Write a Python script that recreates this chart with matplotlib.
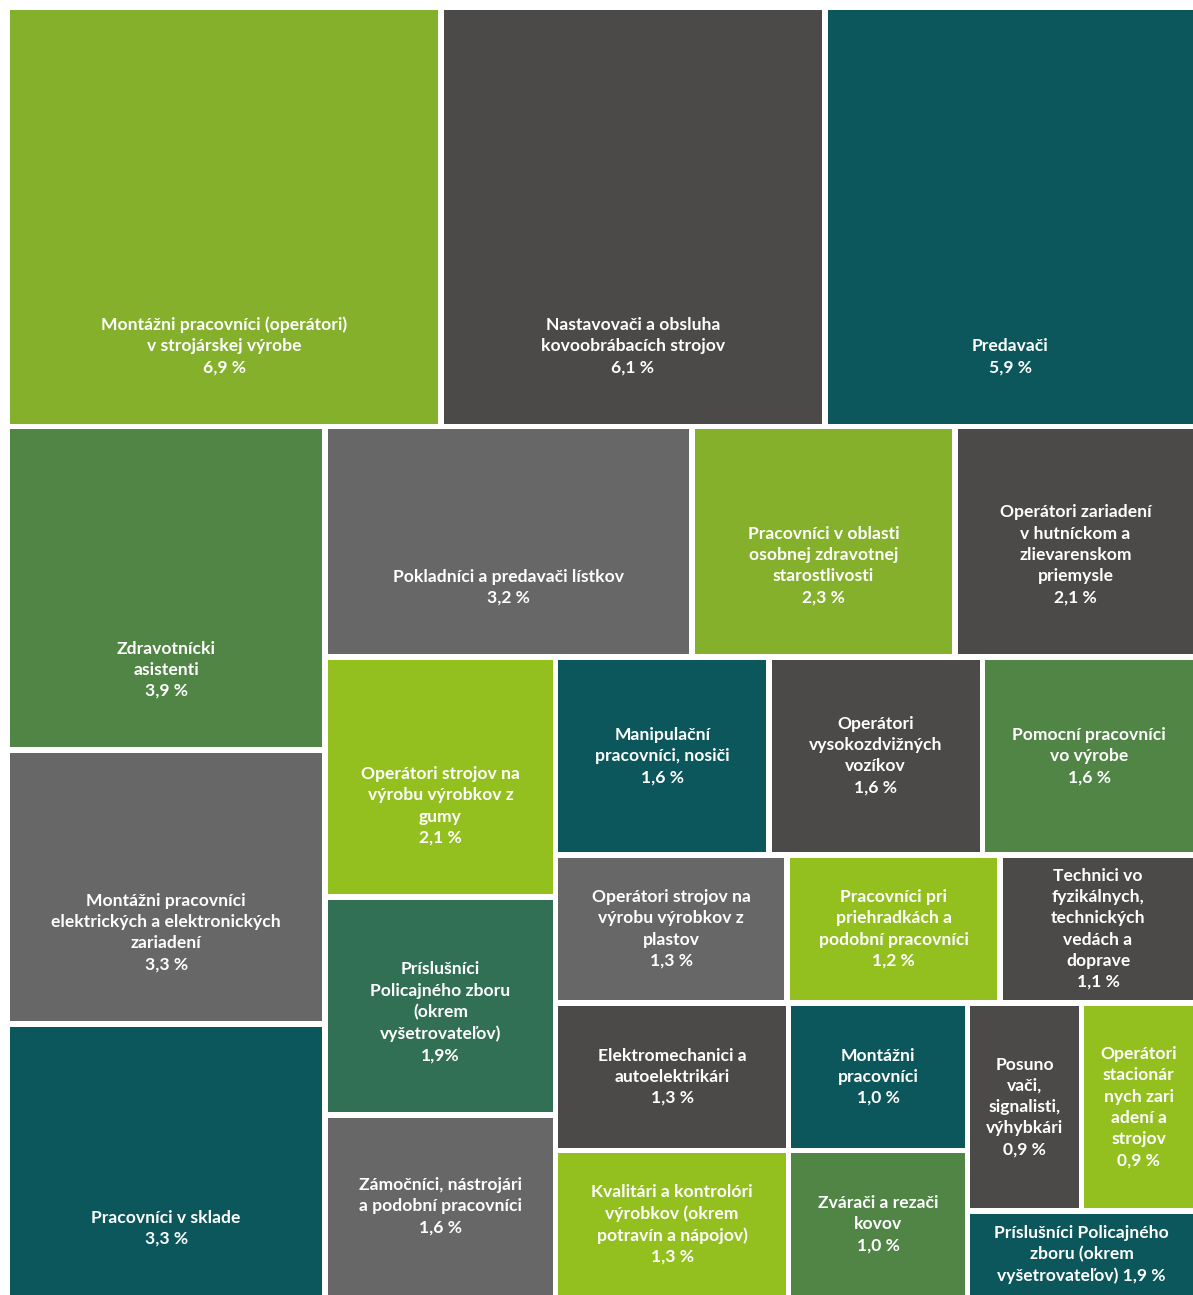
import matplotlib.pyplot as plt
from matplotlib.patches import Rectangle

# ----------------- Data -----------------
labels = [
    "Montážni pracovníci (operátori)\nv strojárskej výrobe\n6,9 %",
    "Nastavovači a obsluha\nkovoobrábacích strojov\n6,1 %",
    "Predavači\n5,9 %",
    "Zdravotnícki\nasistenti\n3,9 %",
    "Montážni pracovníci\nelektrických a elektronických\nzariadení\n3,3 %",
    "Pracovníci v sklade\n3,3 %",
    "Pokladníci a predavači lístkov\n3,2 %",
    "Pracovníci v oblasti\nosobnej zdravotnej\nstarostlivosti\n2,3 %",
    "Operátori zariadení\nv hutníckom a\nzlievarenskom\npriemysle\n2,1 %",
    "Operátori strojov na\nvýrobu výrobkov z\ngumy\n2,1 %",
    "Príslušníci\nPolicajného zboru\n(okrem\nvyšetrovateľov)\n1,9%",
    "Zámočníci, nástrojári\na podobní pracovníci\n1,6 %",
    "Manipulační\npracovníci, nosiči\n1,6 %",
    "Operátori\nvysokozdvižných\nvozíkov\n1,6 %",
    "Pomocní pracovníci\nvo výrobe\n1,6 %",
    "Operátori strojov na\nvýrobu výrobkov z\nplastov\n1,3 %",
    "Pracovníci pri\npriehradkách a\npodobní pracovníci\n1,2 %",
    "Technici vo\nfyzikálnych,\ntechnických\nvedách a\ndoprave\n1,1 %",
    "Elektromechanici a\nautoelektrikári\n1,3 %",
    "Kvalitári a kontrolóri\nvýrobkov (okrem\npotravín a nápojov)\n1,3 %",
    "Montážni\npracovníci\n1,0 %",
    "Zvárači a rezači\nkovov\n1,0 %",
    "Posuno\nvači,\nsignalisti,\nvýhybkári\n0,9 %",
    "Operátori\nstacionár\nnych zari\nadení a\nstrojov\n0,9 %",
    "Príslušníci Policajného\nzboru (okrem\nvyšetrovateľov) 1,9 %",
]
values = [6.9, 6.1, 5.9, 3.9, 3.3, 3.3, 3.2, 2.3, 2.1, 2.1, 1.9, 1.6, 1.6, 1.6,
          1.6, 1.3, 1.2, 1.1, 1.3, 1.3, 1.0, 1.0, 0.9, 0.9, 0.75]

LIME = '#84B02B'
LIME2 = '#93C01F'
DGRAY = '#4B4A48'
MGRAY = '#676767'
TEAL = '#0B575C'
GREEN = '#508545'
DGREEN = '#317055'
colors = [LIME, DGRAY, TEAL, GREEN, MGRAY, TEAL, MGRAY, LIME, DGRAY, LIME2,
          DGREEN, MGRAY, TEAL, DGRAY, GREEN, MGRAY, LIME2, DGRAY, DGRAY, LIME2,
          TEAL, GREEN, DGRAY, LIME2, TEAL]

# slice-and-dice structure: 'r' = side by side, 'c' = stacked
layout = ('c', [
    ('r', [0, 1, 2]),
    ('r', [
        ('c', [3, 4, 5]),
        ('c', [
            ('r', [6, 7, 8]),
            ('r', [
                ('c', [9, 10, 11]),
                ('c', [
                    ('r', [12, 13, 14]),
                    ('c', [
                        ('r', [15, 16, 17]),
                        ('r', [
                            ('c', [18, 19]),
                            ('c', [20, 21]),
                            ('c', [('r', [22, 23]), 24]),
                        ]),
                    ]),
                ]),
            ]),
        ]),
    ]),
])


def total(node):
    if isinstance(node, int):
        return values[node]
    return sum(total(ch) for ch in node[1])


def place(node, x0, y0, x1, y1, out):
    if isinstance(node, int):
        out[node] = (x0, y0, x1, y1)
        return
    kind, children = node
    s = total(node)
    pos = x0 if kind == 'r' else y0
    for ch in children:
        frac = total(ch) / s
        if kind == 'r':
            w = (x1 - x0) * frac
            place(ch, pos, y0, pos + w, y1, out)
        else:
            w = (y1 - y0) * frac
            place(ch, x0, pos, x1, pos + w, out)
        pos += w


W, H = 1193, 1295
GAP = 2.8
rects = {}
place(layout, 10 - GAP, 10 - GAP, W + GAP, H + GAP, rects)

fig = plt.figure(figsize=(W / 100, H / 100), dpi=100)
ax = fig.add_axes([0, 0, 1, 1])
ax.set_xlim(0, W)
ax.set_ylim(H, 0)
ax.axis('off')

LINE_PX = 21.7
for i, lab in enumerate(labels):
    x0, y0, x1, y1 = rects[i]
    x0 += GAP; y0 += GAP; x1 -= GAP; y1 -= GAP
    ax.add_patch(Rectangle((x0, y0), x1 - x0, y1 - y0, facecolor=colors[i],
                           edgecolor='none'))
    n = lab.count('\n') + 1
    cy = (y0 + y1) / 2
    if y1 - y0 > 205:
        cy = max(cy, y1 - 56 - (n - 1) * LINE_PX / 2)
    ax.text((x0 + x1) / 2, cy, lab, ha='center', va='center', ma='center',
            color='white', fontsize=12.6, fontweight='bold',
            family=['Lato', 'DejaVu Sans'], linespacing=1.4)

fig.savefig('out.png', dpi=100)
